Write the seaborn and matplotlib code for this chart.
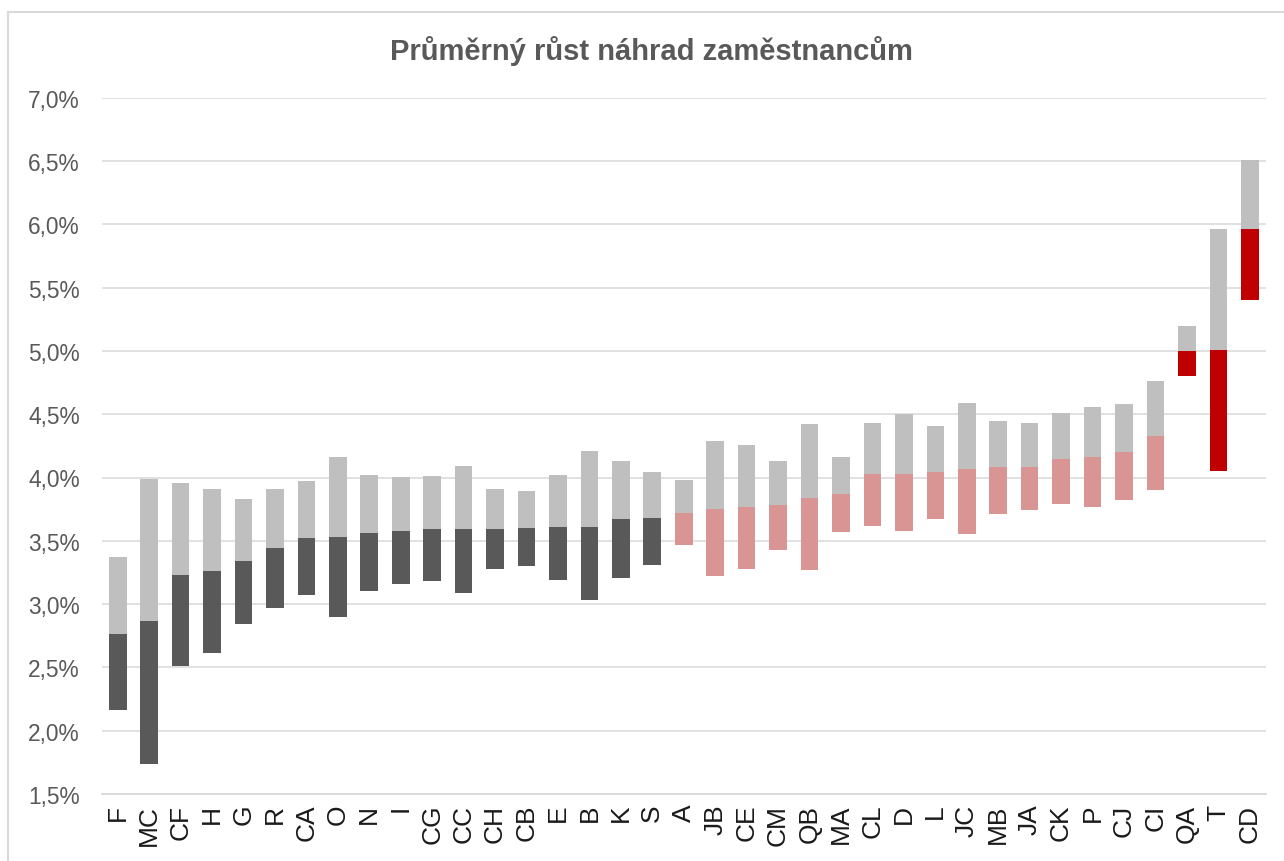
import matplotlib
matplotlib.use("Agg")
import numpy as np
import pandas as pd
import seaborn as sns
import matplotlib.pyplot as plt
from matplotlib.patches import Rectangle
from matplotlib.ticker import FuncFormatter, FixedLocator

# ---------------- data ----------------
title = "Průměrný růst náhrad zaměstnancům"

categories = ["F", "MC", "CF", "H", "G", "R", "CA", "O", "N", "I", "CG", "CC", "CH",
              "CB", "E", "B", "K", "S", "A", "JB", "CE", "CM", "QB", "MA", "CL", "D",
              "L", "JC", "MB", "JA", "CK", "P", "CJ", "CI", "QA", "T", "CD"]

low = [2.16, 1.74, 2.51, 2.61, 2.84, 2.97, 3.07, 2.90, 3.10, 3.16, 3.18, 3.09, 3.28,
       3.30, 3.19, 3.03, 3.21, 3.31, 3.47, 3.22, 3.28, 3.43, 3.27, 3.57, 3.62, 3.58,
       3.67, 3.55, 3.71, 3.74, 3.79, 3.77, 3.82, 3.90, 4.80, 4.05, 5.40]

mid = [2.76, 2.87, 3.23, 3.26, 3.34, 3.44, 3.52, 3.53, 3.56, 3.58, 3.59, 3.59, 3.59,
       3.60, 3.61, 3.61, 3.67, 3.68, 3.72, 3.75, 3.77, 3.78, 3.84, 3.87, 4.03, 4.03,
       4.04, 4.07, 4.08, 4.08, 4.15, 4.16, 4.20, 4.33, 5.00, 5.01, 5.96]

high = [3.37, 3.99, 3.96, 3.91, 3.83, 3.91, 3.97, 4.16, 4.02, 4.00, 4.01, 4.09, 3.91,
        3.89, 4.02, 4.21, 4.13, 4.04, 3.98, 4.29, 4.26, 4.13, 4.42, 4.16, 4.43, 4.50,
        4.41, 4.59, 4.45, 4.43, 4.51, 4.56, 4.58, 4.76, 5.20, 5.96, 6.51]

group = ["dark", "dark", "dark", "dark", "dark", "dark", "dark", "dark", "dark",
         "dark", "dark", "dark", "dark", "dark", "dark", "dark", "dark", "dark",
         "pink", "pink", "pink", "pink", "pink", "pink", "pink", "pink", "pink",
         "pink", "pink", "pink", "pink", "pink", "pink", "pink",
         "red", "red", "red"]

y_ticks = [1.5, 2.0, 2.5, 3.0, 3.5, 4.0, 4.5, 5.0, 5.5, 6.0, 6.5, 7.0]

# ---------------- style ----------------
lower_colors = {"dark": "#595959", "pink": "#D99594", "red": "#C00000"}
upper_color = "#BFBFBF"
grid_color = "#D9D9D9"
text_grey = "#595959"

sns.set_theme(style="white")
plt.rcParams["font.family"] = ["Liberation Sans", "DejaVu Sans"]

df = pd.DataFrame({"cat": categories, "low": low, "mid": mid, "high": high, "group": group})
df["lower_h"] = df["mid"] - df["low"]
df["upper_h"] = df["high"] - df["mid"]

fig = plt.figure(figsize=(12.84, 8.62), dpi=100)
ax = fig.add_axes([102 / 1284, 1 - 795 / 862, (1265.5 - 102) / 1284, (795 - 98.7) / 862])
ax.set_axisbelow(True)
ax.yaxis.grid(True, color=grid_color, linewidth=1.1)
ax.xaxis.grid(False)

bar_w = 0.56
for g in ["dark", "pink", "red"]:
    sub = df[df["group"] == g]
    sns.barplot(data=sub, x="cat", y="lower_h", order=categories,
                bottom=sub["low"].to_numpy(), color=lower_colors[g], saturation=1,
                width=bar_w, errorbar=None, linewidth=0, ax=ax)

sns.barplot(data=df, x="cat", y="upper_h", order=categories,
            bottom=df["mid"].to_numpy(), color=upper_color, saturation=1,
            width=bar_w, errorbar=None, linewidth=0, ax=ax)

ax.set_xlim(-0.5, len(categories) - 0.5)
ax.set_ylim(1.5, 7.0)
ax.yaxis.set_major_locator(FixedLocator(y_ticks))
ax.yaxis.set_major_formatter(FuncFormatter(lambda v, p: f"{v:.1f}%".replace(".", ",")))
ax.set_xlabel("")
ax.set_ylabel("")

for s in ["left", "right", "top"]:
    ax.spines[s].set_visible(False)
ax.spines["bottom"].set_color(grid_color)
ax.spines["bottom"].set_linewidth(1.3)

ax.tick_params(axis="y", length=0, pad=16, labelsize=16.4, labelcolor=text_grey)
ax.tick_params(axis="x", length=0, pad=7, labelsize=19, labelcolor="#1a1a1a", labelrotation=90)

fig.text(651 / 1284, 1 - 51 / 862, title, ha="center", va="center",
         fontsize=21, fontweight="bold", color=text_grey)

fig.patches.append(Rectangle((8 / 1284, -0.05), 1.2, 1 - 13 / 862 + 0.05,
                             transform=fig.transFigure, fill=False,
                             edgecolor=grid_color, linewidth=1.5))

fig.savefig("out.png", dpi=100)
